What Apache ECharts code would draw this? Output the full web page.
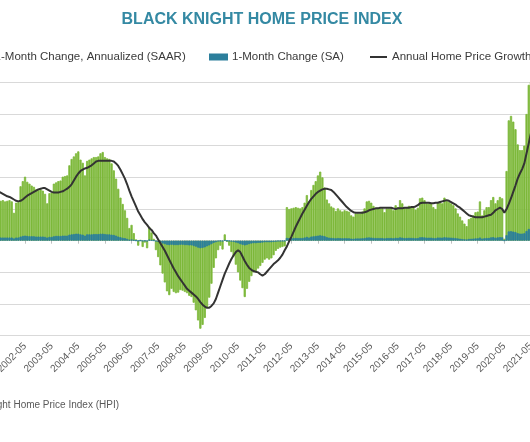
<!DOCTYPE html>
<html><head><meta charset="utf-8">
<script src="https://cdn.jsdelivr.net/npm/echarts@6/dist/echarts.min.js"></script>
<style>
html,body{margin:0;padding:0;width:530px;height:442px;overflow:hidden;background:#fff;}
#chart{position:absolute;left:-60px;top:0;width:644px;height:442px;}
</style></head><body><div id="chart"></div>
<script>
// Monthly categories 2001-05 .. 2021-05
const startYear = 2001, startMonth = 5, monthCount = 241;
const categories = [];
for (let k = 0; k < monthCount; k++) {
  const m = startMonth - 1 + k;
  const y = startYear + Math.floor(m / 12);
  const mm = (m % 12) + 1;
  categories.push(y + '-' + (mm < 10 ? '0' + mm : mm));
}

const seriesNames = ['1-Month Change, Annualized (SAAR)', '1-Month Change (SA)', 'Annual Home Price Growth'];

// 1-Month Change, Annualized (SAAR), %
const saar = [
  6.4, 6.3, 6.4, 6.2, 6.3, 6.4, 6.2, 4.4,
  6.0, 6.1, 8.6, 9.4, 10.1, 9.3, 9.0, 8.7, 8.5, 8.1, 8.0, 8.1,
  7.9, 7.4, 5.9, 7.5, 7.6, 9.0, 9.2, 9.4, 9.5, 10.1, 10.2, 10.3,
  11.9, 12.9, 13.3, 13.8, 14.1, 12.8, 12.3, 10.3, 12.6, 12.8, 13.0, 13.2,
  13.2, 13.3, 13.8, 14.0, 13.2, 13.0, 12.9, 12.2, 11.1, 9.8, 8.2, 6.8,
  5.8, 4.8, 3.6, 2.0, 2.5, 1.2, 0.2, -0.8, 0.1, -1.0, -0.3, -1.2,
  2.2, 1.3, 0.3, -1.5, -2.6, -3.9, -5.2, -6.6, -8.0, -8.6, -7.6, -8.1,
  -8.3, -8.2, -7.8, -7.9, -8.1, -8.3, -8.7, -8.9, -9.8, -11.0, -12.6, -13.9,
  -13.3, -12.2, -10.6, -9.0, -6.8, -4.3, -2.8, -1.5, -0.8, -1.4, 1.0, -0.2,
  -0.8, -1.8, -2.5, -3.8, -5.0, -6.3, -7.5, -8.9, -7.6, -6.5, -5.6, -5.0,
  -4.8, -4.4, -4.0, -3.5, -3.0, -2.8, -3.0, -2.8, -2.3, -1.6, -1.3, -1.1,
  -1.0, -0.9, 5.3, 5.0, 5.1, 5.2, 5.3, 5.2, 5.1, 5.3, 6.0, 7.2,
  6.2, 8.0, 8.8, 9.4, 10.3, 10.9, 10.0, 8.4, 6.5, 5.9, 5.4, 5.2,
  4.7, 5.1, 4.8, 4.6, 4.8, 4.7, 4.6, 4.0, 3.8, 4.3, 4.3, 4.3,
  4.6, 5.1, 6.2, 6.3, 6.0, 5.5, 5.2, 5.2, 5.1, 5.1, 4.5, 5.1,
  5.1, 5.3, 4.8, 5.6, 5.3, 6.4, 5.9, 5.2, 5.3, 5.5, 5.4, 5.3,
  4.9, 5.2, 6.7, 6.8, 6.4, 5.9, 5.9, 5.9, 5.3, 5.0, 6.1, 6.1,
  5.9, 6.8, 6.3, 6.1, 5.9, 5.6, 5.1, 4.3, 3.8, 3.2, 2.7, 2.3,
  3.4, 3.6, 4.0, 4.5, 4.6, 6.2, 4.0, 4.8, 5.3, 5.3, 6.4, 6.9,
  5.9, 6.4, 6.9, 6.7, 0.3, 11.0, 19.0, 19.7, 18.8, 17.6, 15.2, 14.3,
  14.3, 15.0, 20.0, 24.6, 26.0
];

// 1-Month Change (SA), %
const sa = [
  0.5, 0.5, 0.5, 0.5, 0.5, 0.5, 0.5, 0.35,
  0.5, 0.5, 0.65, 0.75, 0.8, 0.75, 0.7, 0.7, 0.7, 0.65, 0.65, 0.65,
  0.65, 0.6, 0.5, 0.6, 0.6, 0.7, 0.75, 0.75, 0.75, 0.8, 0.8, 0.8,
  0.95, 1.0, 1.05, 1.1, 1.1, 1.0, 0.95, 0.8, 1.0, 1.0, 1.0, 1.05,
  1.05, 1.05, 1.1, 1.1, 1.05, 1.0, 1.0, 0.95, 0.9, 0.8, 0.65, 0.55,
  0.45, 0.4, 0.3, 0.15, 0.2, 0.1, 0.02, -0.05, 0.01, -0.08, -0.03, -0.1,
  0.18, 0.1, 0.03, -0.12, -0.2, -0.3, -0.45, -0.55, -0.65, -0.7, -0.65, -0.7,
  -0.7, -0.7, -0.65, -0.65, -0.7, -0.7, -0.75, -0.75, -0.85, -0.95, -1.1, -1.2,
  -1.15, -1.05, -0.9, -0.75, -0.55, -0.35, -0.25, -0.12, -0.07, -0.12, 0.08, -0.02,
  -0.07, -0.15, -0.2, -0.3, -0.4, -0.55, -0.65, -0.75, -0.65, -0.55, -0.45, -0.4,
  -0.4, -0.35, -0.35, -0.3, -0.25, -0.25, -0.25, -0.25, -0.2, -0.15, -0.1, -0.1,
  -0.08, -0.07, 0.45, 0.4, 0.42, 0.42, 0.43, 0.42, 0.42, 0.43, 0.5, 0.6,
  0.5, 0.65, 0.7, 0.75, 0.8, 0.85, 0.8, 0.7, 0.55, 0.48, 0.45, 0.42,
  0.38, 0.42, 0.4, 0.38, 0.4, 0.38, 0.38, 0.33, 0.31, 0.35, 0.35, 0.35,
  0.38, 0.42, 0.5, 0.51, 0.49, 0.45, 0.42, 0.42, 0.42, 0.42, 0.37, 0.42,
  0.42, 0.43, 0.39, 0.46, 0.43, 0.52, 0.48, 0.42, 0.43, 0.45, 0.44, 0.43,
  0.4, 0.42, 0.54, 0.55, 0.52, 0.48, 0.48, 0.48, 0.43, 0.41, 0.5, 0.5,
  0.48, 0.55, 0.51, 0.5, 0.48, 0.45, 0.42, 0.35, 0.31, 0.26, 0.22, 0.19,
  0.28, 0.3, 0.33, 0.37, 0.38, 0.5, 0.33, 0.39, 0.43, 0.43, 0.52, 0.56,
  0.48, 0.52, 0.56, 0.54, 0.03, 0.87, 1.46, 1.5, 1.44, 1.36, 1.19, 1.12,
  1.12, 1.17, 1.53, 1.85, 1.95
];

// Annual Home Price Growth, %
const annual = [
  7.8, 7.6, 7.4, 7.2, 7.0, 6.9, 6.7, 6.5,
  6.3, 6.2, 6.3, 6.5, 6.8, 7.1, 7.3, 7.5, 7.7, 7.9, 8.1, 8.2,
  8.3, 8.3, 8.1, 7.9, 7.7, 7.6, 7.6, 7.6, 7.7, 7.8, 8.0, 8.2,
  8.5, 8.9, 9.5, 10.1, 10.6, 11.0, 11.2, 11.4, 11.5, 11.7, 11.9, 12.2,
  12.5, 12.6, 12.6, 12.6, 12.6, 12.6, 12.6, 12.6, 12.5, 12.2, 11.8, 11.2,
  10.5, 9.8, 8.9, 7.9, 7.0, 6.2, 5.4, 4.6, 4.0, 3.4, 2.9, 2.5,
  2.0, 1.7, 1.2, 0.8, 0.2, -0.4, -1.0, -1.6, -2.3, -3.0, -3.7, -4.4,
  -5.0, -5.6, -6.1, -6.6, -7.1, -7.6, -7.9, -8.2, -8.5, -8.8, -9.2, -9.7,
  -10.1, -10.4, -10.6, -10.6, -10.3, -9.9, -9.2, -8.2, -7.2, -6.2, -5.2, -4.4,
  -3.6, -2.9, -2.3, -1.8, -1.5, -1.8, -2.5, -3.2, -3.8, -4.3, -4.6, -4.8,
  -4.9, -5.0, -5.3, -5.5, -5.3, -4.9, -4.5, -4.1, -3.7, -3.4, -3.1, -2.7,
  -2.2, -1.5, -0.9, -0.1, 0.6, 1.4, 2.2, 2.9, 3.6, 4.3, 4.9, 5.5,
  6.1, 6.6, 7.0, 7.4, 7.7, 7.9, 8.1, 8.2, 8.2, 8.1, 8.0, 7.7,
  7.3, 6.9, 6.5, 6.1, 5.7, 5.3, 5.0, 4.7, 4.5, 4.4, 4.4, 4.4,
  4.4, 4.5, 4.6, 4.8, 4.9, 5.0, 5.1, 5.1, 5.2, 5.2, 5.2, 5.2,
  5.2, 5.2, 5.1, 5.0, 5.1, 5.1, 5.1, 5.2, 5.2, 5.2, 5.3, 5.3,
  5.4, 5.6, 5.9, 6.0, 6.0, 6.0, 6.0, 5.9, 5.9, 6.0, 6.0, 6.1,
  6.2, 6.3, 6.4, 6.3, 6.1, 5.9, 5.7, 5.4, 5.2, 4.9, 4.6, 4.3,
  4.0, 3.9, 3.8, 3.7, 3.7, 3.7, 3.7, 3.8, 3.9, 4.0, 4.1, 4.4,
  4.8, 5.0, 5.2, 5.0, 4.4, 5.0, 5.8, 6.7, 7.7, 8.7, 9.8, 10.6,
  11.3, 12.2, 13.8, 15.4, 17.0
];

const yMin = -15, yMax = 25, yStep = 5;
const titleText = 'BLACK KNIGHT HOME PRICE INDEX';
const sourceText = 'Source: Black Knight Home Price Index (HPI)';

const OFF = 60; // container is shifted left by this many px
const FONT = '"Liberation Sans", Arial, sans-serif';
const GREEN = '#7DB93B', TEAL = '#2C7F9C', LINE = '#333333', GRID = '#D9D9D9';
const legendText = {fontSize: 11.5, color: '#3A3A3A', fontFamily: FONT};

const chart = echarts.init(document.getElementById('chart'), null, {renderer: 'canvas'});
chart.setOption({
  animation: false,
  textStyle: {fontFamily: FONT},
  title: {
    text: titleText, left: 'center', top: 7,
    textStyle: {fontSize: 16, fontWeight: 'bold', color: '#3489A3', fontFamily: FONT}
  },
  legend: [
    {data: [seriesNames[0]], left: OFF - 29.4, top: 51, padding: 0, itemWidth: 18, itemHeight: 5, icon: 'rect',
     textStyle: legendText},
    {data: [seriesNames[1]], left: OFF + 209, top: 51, padding: 0, itemWidth: 17, itemHeight: 5, icon: 'rect',
     textStyle: legendText},
    {data: [seriesNames[2]], left: OFF + 370, top: 51, padding: 0, itemWidth: 17, itemHeight: 2, icon: 'rect',
     itemStyle: {color: LINE}, textStyle: legendText}
  ],
  grid: {left: 57.3, width: 534.8, top: 82.3, height: 253.4, containLabel: false},
  xAxis: [
    {type: 'category', data: categories, position: 'bottom',
     axisLine: {onZero: true, lineStyle: {color: GRID, width: 1}},
     axisTick: {show: true, interval: 11, alignWithLabel: true, length: 3, lineStyle: {color: '#BFBFBF'}},
     axisLabel: {show: false}, splitLine: {show: false}},
    {type: 'category', data: categories, position: 'bottom',
     axisLine: {show: false, onZero: false}, axisTick: {show: false},
     axisLabel: {interval: 11, rotate: 45, fontSize: 10, color: '#595959', margin: 9, fontFamily: FONT},
     splitLine: {show: false}}
  ],
  yAxis: {
    type: 'value', min: yMin, max: yMax, interval: yStep,
    axisLine: {show: false}, axisTick: {show: false},
    axisLabel: {formatter: '{value}%', fontSize: 10, color: '#595959'},
    splitLine: {lineStyle: {color: GRID, width: 1.2}}
  },
  series: [
    {name: seriesNames[0], type: 'bar', data: saar, xAxisIndex: 0,
     barCategoryGap: '0%', barGap: '-100%',
     itemStyle: {color: GREEN, borderColor: GREEN, borderWidth: 0.8}},
    {name: seriesNames[1], type: 'bar', data: sa, xAxisIndex: 0,
     barCategoryGap: '0%', barGap: '-100%',
     itemStyle: {color: TEAL, borderColor: TEAL, borderWidth: 0.8}},
    {name: seriesNames[2], type: 'line', data: annual, xAxisIndex: 0,
     symbol: 'none', z: 5, lineStyle: {color: LINE, width: 2}, itemStyle: {color: LINE}}
  ],
  graphic: [
    {type: 'text', x: OFF + 119, y: 405,
     style: {text: sourceText, align: 'right', verticalAlign: 'middle', fill: '#595959', font: '10px ' + FONT}}
  ]
});
</script></body></html>
